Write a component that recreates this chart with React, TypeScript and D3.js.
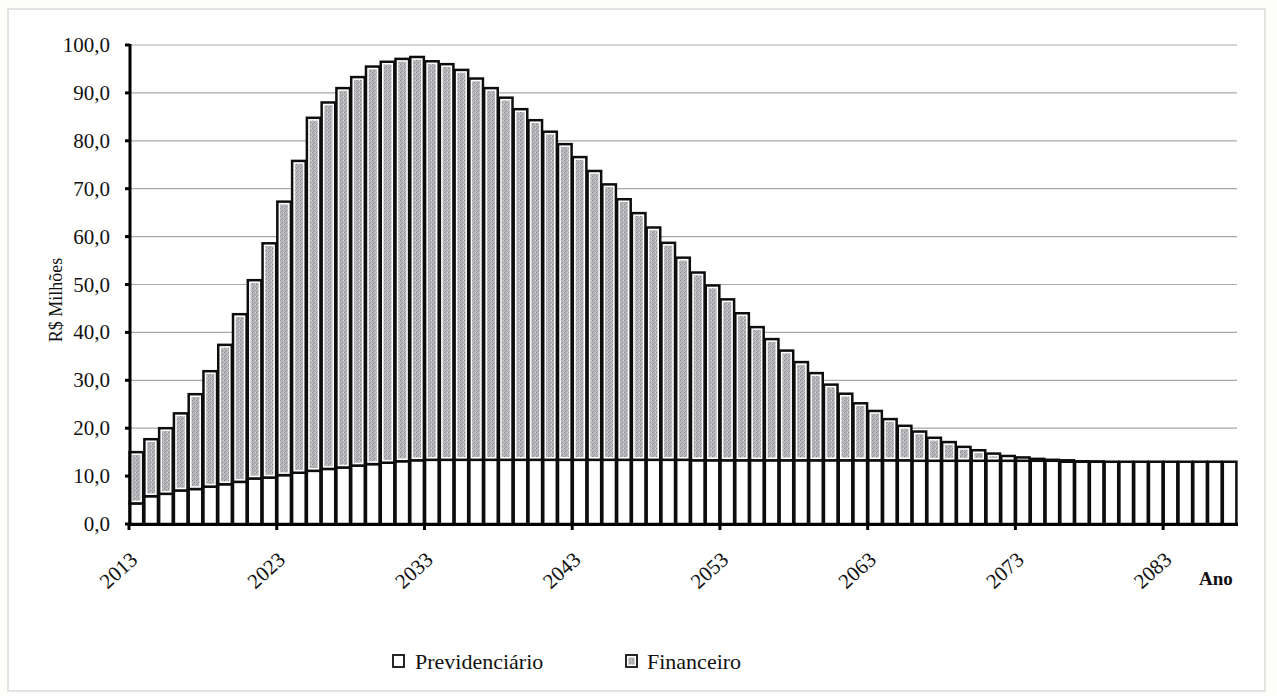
import React from "react";
import * as d3 from "d3";

const years: number[] = [];
for (let yr = 2013; yr <= 2087; yr++) years.push(yr);

const previdenciario: number[] = [
  4.3, 5.8, 6.3, 7.0, 7.3, 7.8, 8.3, 8.8, 9.5, 9.7,
  10.2, 10.7, 11.1, 11.5, 11.8, 12.2, 12.5, 12.8, 13.1, 13.3,
  13.4, 13.4, 13.4, 13.4, 13.4, 13.4, 13.4, 13.4, 13.4, 13.4,
  13.4, 13.4, 13.4, 13.4, 13.4, 13.4, 13.4, 13.4, 13.3, 13.3,
  13.3, 13.3, 13.3, 13.3, 13.3, 13.3, 13.3, 13.3, 13.3, 13.3,
  13.3, 13.3, 13.3, 13.2, 13.2, 13.2, 13.2, 13.2, 13.2, 13.2,
  13.2, 13.2, 13.2, 13.0, 13.0, 13.0, 13.0, 13.0, 13.0, 13.0,
  13.0, 13.0, 13.0, 13.0, 13.0,
];

const financeiro: number[] = [
  10.7, 11.9, 13.7, 16.1, 19.8, 24.1, 29.1, 35.0, 41.4, 48.9,
  57.1, 65.1, 73.7, 76.5, 79.2, 81.1, 83.0, 83.7, 84.0, 84.2,
  83.2, 82.6, 81.4, 79.6, 77.6, 75.6, 73.2, 70.9, 68.5, 65.9,
  63.2, 60.3, 57.5, 54.4, 51.5, 48.5, 45.3, 42.2, 39.2, 36.5,
  33.6, 30.7, 27.8, 25.3, 22.9, 20.5, 18.2, 15.8, 13.9, 11.9,
  10.3, 8.6, 7.2, 6.1, 4.8, 3.9, 2.9, 2.2, 1.5, 1.0,
  0.7, 0.4, 0.2, 0.3, 0.1, 0.05, 0, 0, 0, 0,
  0, 0, 0, 0, 0,
];

const yTicks: number[] = [0, 10, 20, 30, 40, 50, 60, 70, 80, 90, 100];
const xTickYears: number[] = [2013, 2023, 2033, 2043, 2053, 2063, 2073, 2083];

const FONT = "'Liberation Serif', 'Times New Roman', serif";

export default function App() {
  const W = 1277;
  const H = 696;
  const x = d3.scaleBand<number>().domain(years).range([129, 1237]).paddingInner(0);
  const y = d3.scaleLinear().domain([0, 100]).range([524, 45]);
  const bw = x.bandwidth();
  const fmt = (v: number) => d3.format(".1f")(v).replace(".", ",");

  return (
    <svg
      width={W}
      height={H}
      style={{ position: "absolute", left: 0, top: 0, background: "#fdfdfb" }}
      fontFamily={FONT}
    >
      <defs>
        <pattern id="dots" width="4" height="4" patternUnits="userSpaceOnUse">
          <rect width="4" height="4" fill="#b6b6bb" />
          <rect x="0" y="0" width="1" height="1" fill="#85858c" />
          <rect x="2" y="2" width="1" height="1" fill="#909097" />
          <rect x="3" y="0" width="1" height="1" fill="#d0d0d4" />
          <rect x="1" y="3" width="1" height="1" fill="#9c9ca2" />
        </pattern>
      </defs>
      <rect x={0} y={0} width={W} height={H} fill="#fdfdfb" />
      <rect x={8} y={9} width={1257} height={682} fill="#ffffff" stroke="#dadada" strokeWidth={1.5} />

      {/* gridlines */}
      {yTicks.filter((t) => t > 0).map((t) => (
        <line key={"g" + t} x1={131} x2={1237} y1={y(t)} y2={y(t)} stroke="#a9a9a9" strokeWidth={1.2} />
      ))}

      {/* bars */}
      {years.map((yr, i) => {
        const x0 = (x(yr) as number) + 0.6;
        const w = bw - 1.2;
        const p = previdenciario[i];
        const f = financeiro[i];
        const yp = y(p);
        const yt = y(p + f);
        const fh = yp - yt;
        return (
          <g key={yr}>
            <rect x={x0} y={yp} width={w} height={y(0) - yp} fill="#ffffff" stroke="#0d0d0d" strokeWidth={2.5} />
            {f > 0 && (
              <rect x={x0} y={yt} width={w} height={fh} fill="#ffffff" stroke="#0d0d0d" strokeWidth={2.5} />
            )}
            {fh > 6 && (
              <rect x={x0 + 2.8} y={yt + 2.8} width={w - 5.6} height={fh - 5.6} fill="url(#dots)" />
            )}
          </g>
        );
      })}

      {/* y axis */}
      <line x1={130} x2={130} y1={44} y2={525.5} stroke="#000" strokeWidth={3} />
      {yTicks.map((t) => (
        <g key={"yt" + t}>
          <line x1={125} x2={130} y1={y(t)} y2={y(t)} stroke="#000" strokeWidth={3} />
          <text x={110} y={y(t) + 7} textAnchor="end" fontSize={21} fill="#111">
            {fmt(t)}
          </text>
        </g>
      ))}
      <text
        transform={`translate(62,300) rotate(-90)`}
        textAnchor="middle"
        fontSize={18}
        fill="#111"
      >
        R$ Milhões
      </text>

      {/* x axis */}
      <line x1={128.5} x2={1238} y1={524.5} y2={524.5} stroke="#000" strokeWidth={3} />
      {xTickYears.map((yr) => {
        const tx = x(yr) as number;
        return (
          <g key={"xt" + yr}>
            <line x1={tx} x2={tx} y1={524} y2={530} stroke="#000" strokeWidth={3} />
            <text
              transform={`translate(${tx - 9},${572}) rotate(-42)`}
              textAnchor="middle"
              dominantBaseline="middle"
              fontSize={21}
              fill="#111"
            >
              {yr}
            </text>
          </g>
        );
      })}
      <text x={1199} y={585} fontSize={19} fontWeight="bold" fill="#111">
        Ano
      </text>

      {/* legend */}
      <rect x={393} y={655} width={11} height={12} fill="#fff" stroke="#111" strokeWidth={1.8} />
      <text x={415} y={669} fontSize={22} fill="#111">
        Previdenciário
      </text>
      <rect x={626} y={655} width={11} height={12} fill="#fff" stroke="#111" strokeWidth={1.8} />
      <rect x={628.5} y={657.5} width={6} height={7} fill="url(#dots)" />
      <text x={647} y={669} fontSize={22} fill="#111">
        Financeiro
      </text>
    </svg>
  );
}
